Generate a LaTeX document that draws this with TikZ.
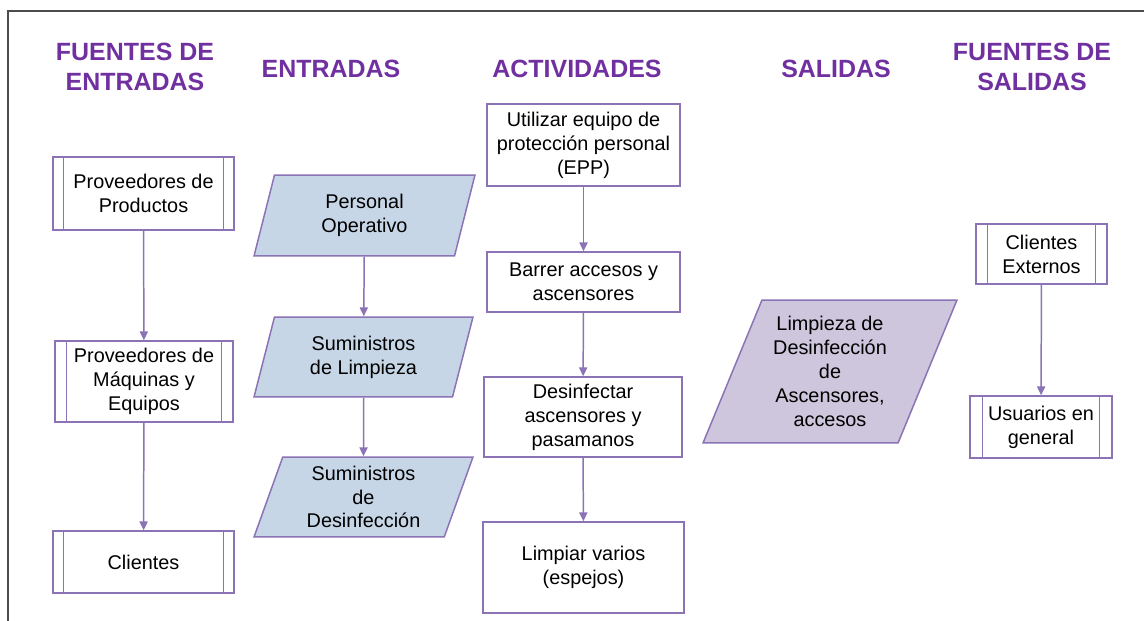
\documentclass[tikz,border=0pt]{standalone}
\usepackage{fontspec}
\setmainfont{Liberation Sans}
\usetikzlibrary{shapes.geometric, arrows.meta}
\definecolor{hdpurple}{HTML}{7030A0}
\definecolor{lnpurple}{HTML}{8B73B5}
\definecolor{inblue}{HTML}{C6D6E6}
\definecolor{outlav}{HTML}{CEC6DC}

\tikzset{
  hdtext/.style={text=hdpurple, font=\fontsize{14.2}{17.5}\selectfont\bfseries, align=center},
  boxtxt/.style={font=\fontsize{11.3}{13.6}\selectfont, align=center, inner sep=2pt},
  actbox/.style={boxtxt, draw=lnpurple, line width=0.85pt, fill=white},
  srcbox/.style={actbox},
  inpara/.style={boxtxt, shape=trapezium, draw=lnpurple, line width=0.85pt, fill=inblue,
    trapezium left angle=67.5, trapezium right angle=112.5, trapezium stretches body},
  outpara/.style={inpara, fill=outlav, trapezium left angle=63.3, trapezium right angle=116.7},
  flow/.style={draw=lnpurple, line width=0.85pt, -{Triangle[length=5pt,width=4.6pt]}}
}

\begin{document}
\begin{tikzpicture}[x=0.02cm, y=-0.02cm]
  \useasboundingbox (0,0) rectangle (1144,621);
  % marco
  \draw[black!70, line width=0.8pt] (8,621) -- (8,11) -- (1144,11);
  % encabezados
  \node[hdtext] (hfe) at (135,67) {FUENTES DE\\ENTRADAS};
  \node[hdtext] (hen) at (331,69) {ENTRADAS};
  \node[hdtext] (hac) at (577,69) {ACTIVIDADES};
  \node[hdtext] (hsa) at (836,69) {SALIDAS};
  \node[hdtext] (hfs) at (1032,67) {FUENTES DE\\SALIDAS};
  % fuentes de entradas
  \node[srcbox, minimum width=3.62cm, minimum height=1.46cm] (pprod) at (143.5,193.5) {Proveedores de\\Productos};
  \node[srcbox, minimum width=3.56cm, minimum height=1.62cm] (pmaq) at (144,381.5) {Proveedores de\\Máquinas y\\Equipos};
  \node[srcbox, minimum width=3.62cm, minimum height=1.24cm] (clis) at (143.5,562) {Clientes};
  % entradas
  \node[inpara, minimum width=4.42cm, minimum height=1.62cm] (pope) at (364.5,215.5) {Personal\\Operativo};
  \node[inpara, minimum width=4.38cm, minimum height=1.60cm] (slim) at (363.5,357) {Suministros\\de Limpieza};
  \node[inpara, minimum width=4.38cm, minimum height=1.60cm] (sdes) at (363.5,497) {Suministros\\de\\Desinfección};
  % actividades
  \node[actbox, minimum width=3.86cm, minimum height=1.64cm] (uepp) at (583.5,145) {Utilizar equipo de\\protección personal\\(EPP)};
  \node[actbox, minimum width=3.86cm, minimum height=1.20cm] (bacc) at (583.5,282) {Barrer accesos y\\ascensores};
  \node[actbox, minimum width=3.96cm, minimum height=1.60cm] (dasc) at (583,417) {Desinfectar\\ascensores y\\pasamanos};
  \node[actbox, minimum width=4.02cm, minimum height=1.82cm] (lvar) at (583.5,567.5) {Limpiar varios\\(espejos)};
  % salidas
  \node[outpara, minimum width=5.08cm, minimum height=2.86cm] (ldes) at (830,371.5) {Limpieza de\\Desinfección\\de\\Ascensores,\\accesos};
  % fuentes de salidas
  \node[srcbox, minimum width=2.62cm, minimum height=1.20cm] (cext) at (1041.5,254) {Clientes\\Externos};
  \node[srcbox, minimum width=2.84cm, minimum height=1.24cm] (ugen) at (1041,427) {Usuarios en\\general};
  % lineas dobles de proceso
  \foreach \n/\d in {pprod/11, pmaq/12, clis/11, cext/12, ugen/13}{
    \draw[lnpurple, line width=0.85pt] ([xshift=\d*0.02cm]\n.north west) -- ([xshift=\d*0.02cm]\n.south west)
      ([xshift=-\d*0.02cm]\n.north east) -- ([xshift=-\d*0.02cm]\n.south east);
  }
  % flechas
  \draw[flow] (pprod) -- (pmaq);
  \draw[flow] (pmaq) -- (clis);
  \draw[flow] (pope) -- (slim);
  \draw[flow] (slim) -- (sdes);
  \draw[flow] (uepp) -- (bacc);
  \draw[flow] (bacc) -- (dasc);
  \draw[flow] (dasc) -- (lvar);
  \draw[flow] (cext) -- (ugen);
\end{tikzpicture}
\end{document}
